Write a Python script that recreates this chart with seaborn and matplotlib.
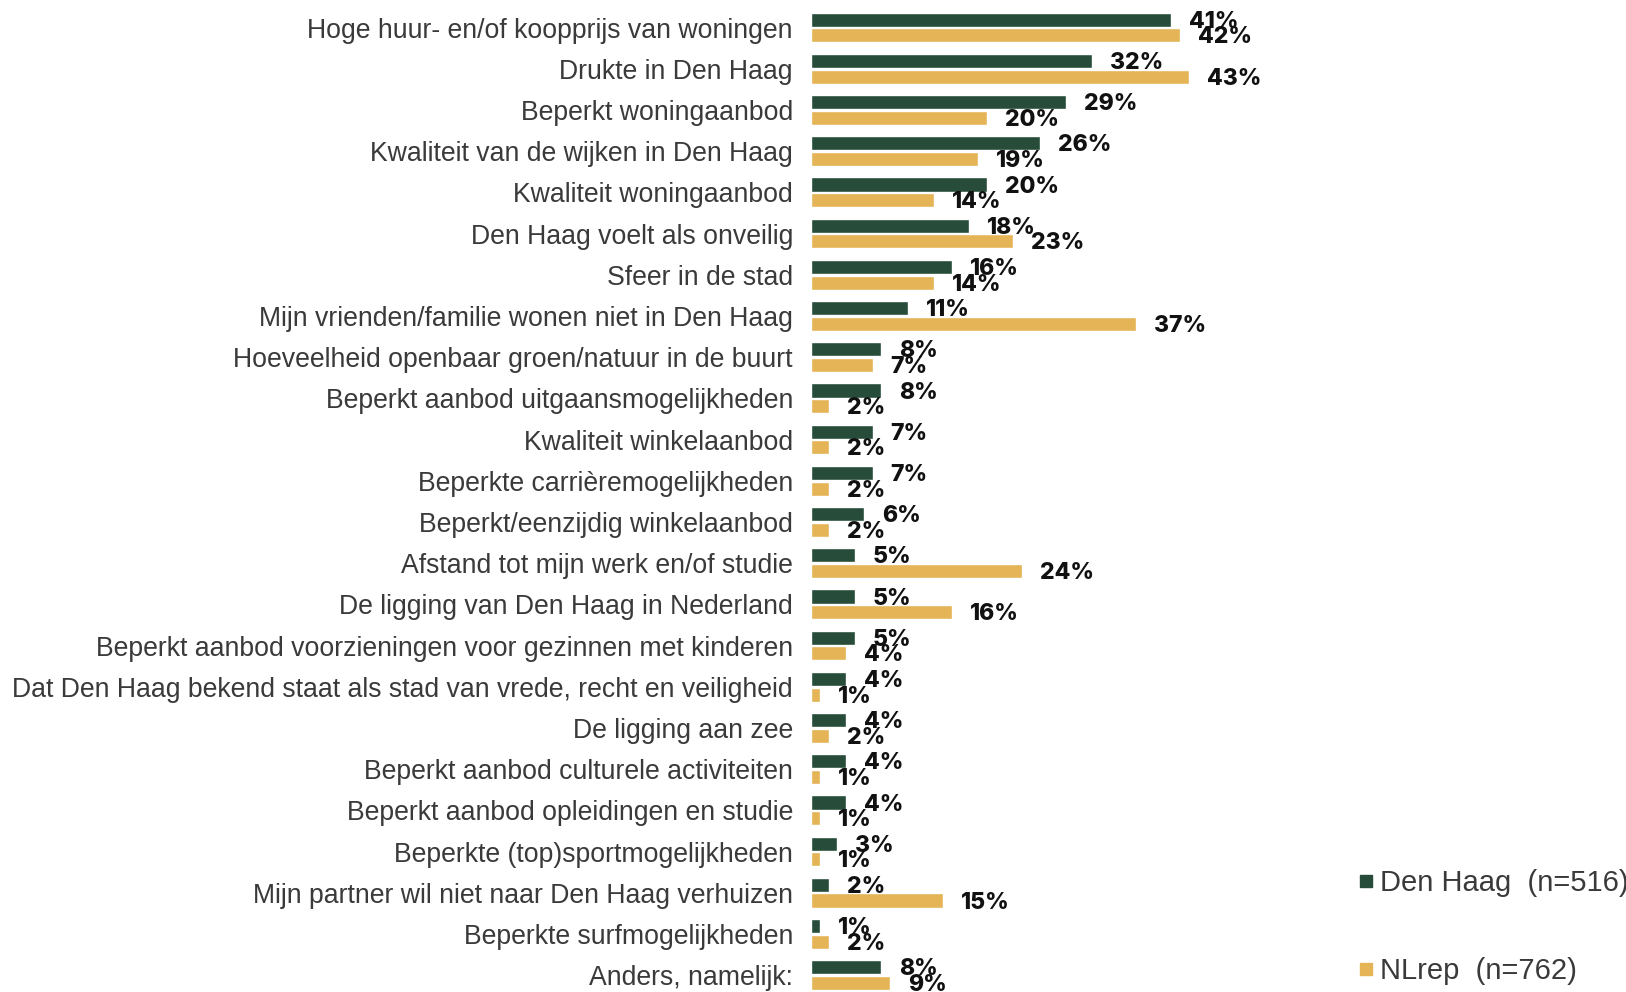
import matplotlib
matplotlib.use("Agg")
import matplotlib.pyplot as plt
from matplotlib.lines import Line2D
import seaborn as sns
import pandas as pd

# data
categories = [
    "Hoge huur- en/of koopprijs van woningen",
    "Drukte in Den Haag",
    "Beperkt woningaanbod",
    "Kwaliteit van de wijken in Den Haag",
    "Kwaliteit woningaanbod",
    "Den Haag voelt als onveilig",
    "Sfeer in de stad",
    "Mijn vrienden/familie wonen niet in Den Haag",
    "Hoeveelheid openbaar groen/natuur in de buurt",
    "Beperkt aanbod uitgaansmogelijkheden",
    "Kwaliteit winkelaanbod",
    "Beperkte carrièremogelijkheden",
    "Beperkt/eenzijdig winkelaanbod",
    "Afstand tot mijn werk en/of studie",
    "De ligging van Den Haag in Nederland",
    "Beperkt aanbod voorzieningen voor gezinnen met kinderen",
    "Dat Den Haag bekend staat als stad van vrede, recht en veiligheid",
    "De ligging aan zee",
    "Beperkt aanbod culturele activiteiten",
    "Beperkt aanbod opleidingen en studie",
    "Beperkte (top)sportmogelijkheden",
    "Mijn partner wil niet naar Den Haag verhuizen",
    "Beperkte surfmogelijkheden",
    "Anders, namelijk:",
]
den_haag = [41, 32, 29, 26, 20, 18, 16, 11, 8, 8, 7, 7, 6, 5, 5, 5, 4, 4, 4, 4, 3, 2, 1, 8]
nlrep = [42, 43, 20, 19, 14, 23, 14, 37, 7, 2, 2, 2, 2, 24, 16, 4, 1, 2, 1, 1, 1, 15, 2, 9]
series_names = ["Den Haag  (n=516)", "NLrep  (n=762)"]
colors = ["#274C39", "#E4B456"]

df = pd.DataFrame({
    "categorie": categories * 2,
    "waarde": den_haag + nlrep,
    "groep": [series_names[0]] * len(categories) + [series_names[1]] * len(categories),
})

sns.set_style("white")
plt.rcParams["font.family"] = ["Liberation Sans", "DejaVu Sans"]

fig = plt.figure(figsize=(16.26, 9.92), dpi=100)
ax = fig.add_axes([0.4988, 0.0, 0.3135, 0.993])

sns.barplot(data=df, y="categorie", x="waarde", hue="groep", orient="h",
            palette=colors, width=0.76, gap=0.1, order=categories,
            hue_order=series_names, ax=ax, legend=False, saturation=1)

# value labels
for container in ax.containers:
    for bar in container:
        w = bar.get_width()
        y = bar.get_y() + bar.get_height() / 2
        ax.annotate(f"{w:.0f}%", xy=(w, y), xytext=(13, -1.5), textcoords="offset points",
                    ha="left", va="center", fontsize=16.5, fontweight="heavy",
                    family="Inter", color="#111111")

ax.set_xlim(0, 58)
ax.set_ylim(23.41, -0.5)
ax.set_xlabel("")
ax.set_ylabel("")
ax.set_xticks([])
ax.tick_params(axis="y", length=0, pad=13, labelsize=19.2, labelcolor="#3a3a3a")
sns.despine(ax=ax, left=True, bottom=True)

handles = [Line2D([0], [0], marker="s", linestyle="", markersize=8.5,
                  markerfacecolor=c, markeredgecolor=c) for c in colors]
fig.legend(handles, series_names, loc="upper left", bbox_to_anchor=(0.8166, 0.150),
           frameon=False, fontsize=21, labelcolor="#3a3a3a", handletextpad=0.1,
           handlelength=0.8, labelspacing=2.05)

fig.savefig("out.png", dpi=100)
